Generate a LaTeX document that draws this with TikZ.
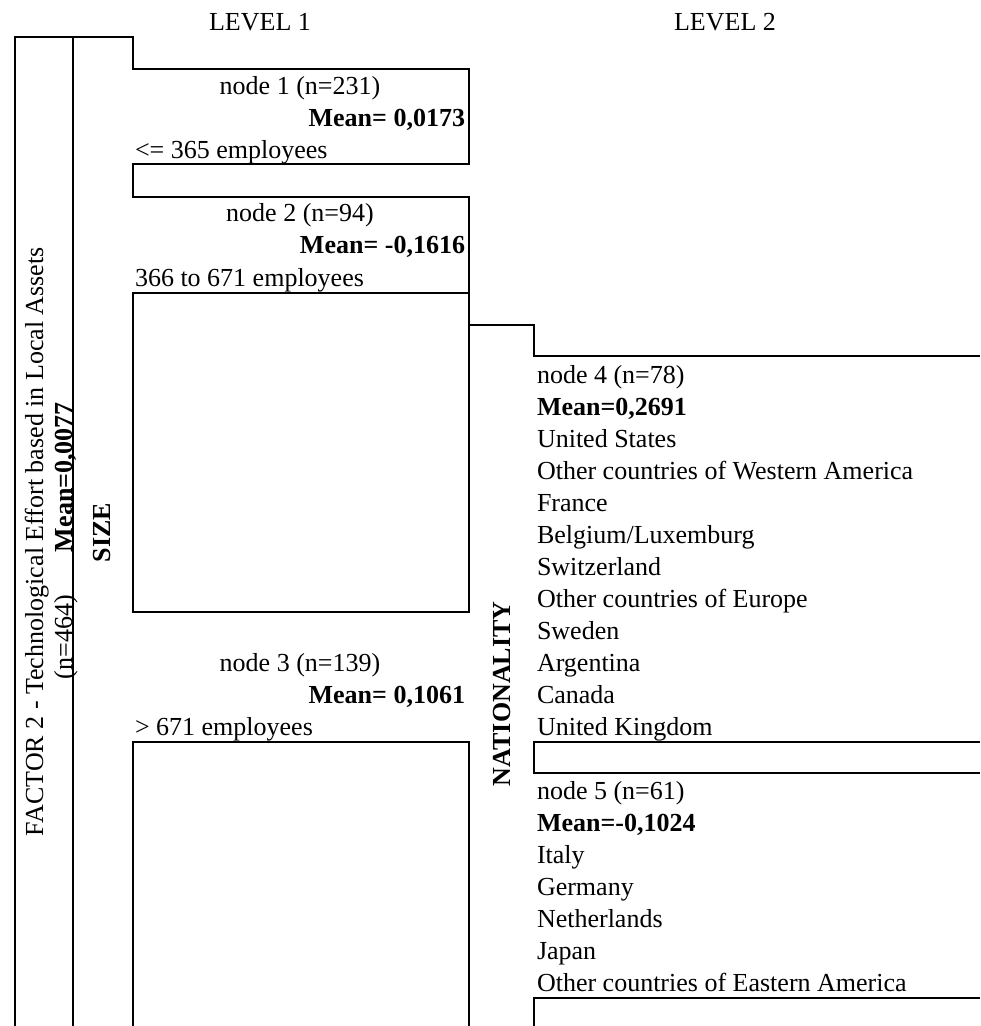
\documentclass[tikz,border=0pt]{standalone}
\usepackage{fontspec}
\setmainfont{Liberation Serif}

\begin{document}
\begin{tikzpicture}[x=0.5pt,y=-0.5pt,line width=1pt,
  every node/.style={inner sep=0pt,font=\fontsize{13}{16}\selectfont},
  bold/.style={font=\fontsize{13}{16}\selectfont\bfseries},
  lbl/.style={anchor=base west},
  rlbl/.style={anchor=base east,bold},
  clbl/.style={anchor=base},
  vlbl/.style={anchor=base west,rotate=90}]
  \useasboundingbox (0,0) rectangle (980,1026);

  % table lines, level 1
  \draw (15,1026) -- (15,37) -- (133,37) -- (133,69) -- (469,69) -- (469,164)
        -- (133,164) -- (133,197) -- (469,197) -- (469,293) -- (133,293)
        -- (133,612) -- (469,612) -- (469,293);
  \draw (73,37) -- (73,1026);
  \draw (133,1026) -- (133,742) -- (469,742) -- (469,1026);
  % table lines, level 2
  \draw (469,325) -- (534,325) -- (534,356) -- (980,356);
  \draw (980,742) -- (534,742) -- (534,773) -- (980,773);
  \draw (980,998) -- (534,998) -- (534,1026);

  \node[clbl] (lev1) at (260,31) {LEVEL 1};
  \node[clbl] (lev2) at (725,31) {LEVEL 2};

  % vertical headings
  \node[vlbl] (factor) at (43,837) {FACTOR 2 - Technological Effort based in Local Assets};
  \node[vlbl] (nall) at (72,680) {(n=464)};
  \node[vlbl,bold] (meanall) at (72,553) {Mean=0,0077};
  \node[vlbl,bold] (size) at (110,563) {SIZE};
  \node[vlbl,bold] (nat) at (510,787) {NATIONALITY};

  % level 1
  \node[clbl] (n1) at (300,95) {node 1 (n=231)};
  \node[rlbl] (m1) at (466,127) {Mean= 0,0173};
  \node[lbl] (c1) at (134,159) {<= 365 employees};
  \node[clbl] (n2) at (300,222) {node 2 (n=94)};
  \node[rlbl] (m2) at (466,254) {Mean= -0,1616};
  \node[lbl] (c2) at (134,286) {366 to 671 employees};
  \node[clbl] (n3) at (300,671) {node 3 (n=139)};
  \node[rlbl] (m3) at (466,703) {Mean= 0,1061};
  \node[lbl] (c3) at (134,735) {> 671 employees};

  % level 2
  \foreach \txt [count=\i from 0] in {node 4 (n=78), {\bfseries Mean=0,2691},
      United States, Other countries of Western America, France,
      Belgium/Luxemburg, Switzerland, Other countries of Europe, Sweden,
      Argentina, Canada, United Kingdom}
    \node[lbl] (a\i) at (536,383+32*\i) {\txt};
  \foreach \txt [count=\i from 0] in {node 5 (n=61), {\bfseries Mean=-0,1024},
      Italy, Germany, Netherlands, Japan, Other countries of Eastern America}
    \node[lbl] (b\i) at (536,799+32*\i) {\txt};
\end{tikzpicture}
\end{document}
